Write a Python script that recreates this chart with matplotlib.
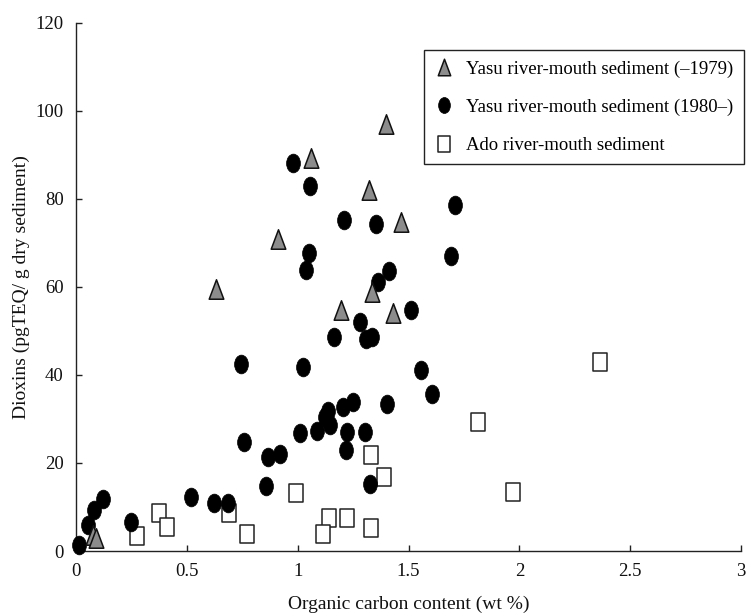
import matplotlib
matplotlib.use("Agg")
import matplotlib.pyplot as plt
import numpy as np
from matplotlib.path import Path
from matplotlib.lines import Line2D

plt.rcParams['font.family'] = ['Liberation Serif', 'DejaVu Serif']
plt.rcParams['mathtext.fontset'] = 'stix'

# Yasu river-mouth sediment (-1979)
tri_x = [0.075, 0.09, 0.63, 0.912, 1.058, 1.32, 1.398, 1.465, 1.334, 1.194, 1.431]
tri_y = [3.6, 3.0, 59.4, 70.9, 89.2, 82.1, 97.1, 74.8, 58.9, 54.8, 54.0]

# Yasu river-mouth sediment (1980-)
cir_x = [0.015, 0.055, 0.082, 0.12, 0.25, 0.517, 0.624, 0.684, 0.743, 0.759,
         0.857, 0.868, 0.92, 0.98, 1.01, 1.025, 1.036, 1.051, 1.055, 1.089,
         1.123, 1.138, 1.146, 1.165, 1.206, 1.209, 1.216, 1.224, 1.248, 1.281,
         1.304, 1.307, 1.326, 1.334, 1.352, 1.364, 1.401, 1.413, 1.511, 1.556,
         1.605, 1.691, 1.71]
cir_y = [1.4, 6.0, 9.2, 11.7, 6.5, 12.2, 11.0, 11.0, 42.5, 24.7,
         14.8, 21.3, 22.0, 88.1, 26.9, 41.7, 63.9, 67.8, 83.0, 27.3,
         30.5, 31.7, 28.6, 48.6, 32.8, 75.1, 23.0, 27.1, 33.9, 52.1,
         27.1, 48.1, 15.2, 48.6, 74.2, 61.2, 33.4, 63.5, 54.7, 41.2,
         35.6, 66.9, 78.6]

# Ado river-mouth sediment
sq_x = [0.274, 0.376, 0.409, 0.69, 0.773, 0.991, 1.141, 1.113, 1.221, 1.331,
        1.331, 1.389, 1.812, 1.973, 2.364]
sq_y = [3.4, 8.7, 5.5, 8.7, 3.9, 13.1, 7.4, 3.9, 7.4, 5.2,
        21.7, 16.9, 29.4, 13.5, 42.9]

labels = ['Yasu river-mouth sediment (\u20131979)',
          'Yasu river-mouth sediment (1980\u2013)',
          'Ado river-mouth sediment']
x_ticks = [0, 0.5, 1, 1.5, 2, 2.5, 3]
x_ticklabels = ['0', '0.5', '1', '1.5', '2', '2.5', '3']
y_ticks = [0, 20, 40, 60, 80, 100, 120]

# custom tall markers
tri_path = Path([(-0.375, -0.5), (0.375, -0.5), (0.0, 0.5), (-0.375, -0.5)],
                [Path.MOVETO, Path.LINETO, Path.LINETO, Path.CLOSEPOLY])
uc = Path.unit_circle()
ell_path = Path(uc.vertices * np.array([0.37, 0.5]), uc.codes)
sq_path = Path([(-0.375, -0.5), (0.375, -0.5), (0.375, 0.5), (-0.375, 0.5), (-0.375, -0.5)],
               [Path.MOVETO, Path.LINETO, Path.LINETO, Path.LINETO, Path.CLOSEPOLY])

fig = plt.figure(figsize=(7.48, 6.13), dpi=100)
ax = fig.add_axes([76/748, 1-551/613, (741-76)/748, (551-22.7)/613])

ax.plot(sq_x, sq_y, linestyle='none', marker=sq_path, markersize=13.3,
        markerfacecolor='white', markeredgecolor='#222222', markeredgewidth=1.1,
        clip_on=False, zorder=3)
ax.plot(cir_x, cir_y, linestyle='none', marker=ell_path, markersize=13.5,
        markerfacecolor='black', markeredgecolor='black', markeredgewidth=0.5,
        clip_on=False, zorder=3)
ax.plot(tri_x, tri_y, linestyle='none', marker=tri_path, markersize=14,
        markerfacecolor='#8c8c8c', markeredgecolor='#111111', markeredgewidth=1.1,
        clip_on=False, zorder=3)

ax.set_xlim(0, 3)
ax.set_ylim(0, 120)
ax.set_xticks(x_ticks)
ax.set_xticklabels(x_ticklabels)
ax.set_yticks(y_ticks)
for s in ['top', 'right']:
    ax.spines[s].set_visible(False)
for s in ['left', 'bottom']:
    ax.spines[s].set_linewidth(1.0)
    ax.spines[s].set_color('#222222')
ax.tick_params(direction='in', length=4, width=1.0, color='#222222',
               labelsize=13.5, pad=9, labelcolor='#111111')

ax.set_xlabel('Organic carbon content (wt %)', fontsize=14, color='#111111', labelpad=11)
ax.set_ylabel('Dioxins (pgTEQ/ g dry sediment)', fontsize=14, color='#111111', labelpad=4)

handles = [
    Line2D([], [], linestyle='none', marker=tri_path, markersize=14,
           markerfacecolor='#8c8c8c', markeredgecolor='#111111', markeredgewidth=1.1),
    Line2D([], [], linestyle='none', marker=ell_path, markersize=13.5,
           markerfacecolor='black', markeredgecolor='black', markeredgewidth=0.5),
    Line2D([], [], linestyle='none', marker=sq_path, markersize=13.3,
           markerfacecolor='white', markeredgecolor='#222222', markeredgewidth=1.1),
]
leg = ax.legend(handles, labels, loc='upper right',
                bbox_to_anchor=(744/748, 1-50/613), bbox_transform=fig.transFigure,
                borderaxespad=0, fontsize=13.5, markerscale=0.85, frameon=True,
                fancybox=False, edgecolor='#222222', framealpha=1,
                handlelength=1.0, handletextpad=0.7, labelspacing=1.12,
                borderpad=0.55)
leg.get_frame().set_linewidth(1.0)
leg.set_zorder(5)

fig.savefig('out.png', dpi=100)
